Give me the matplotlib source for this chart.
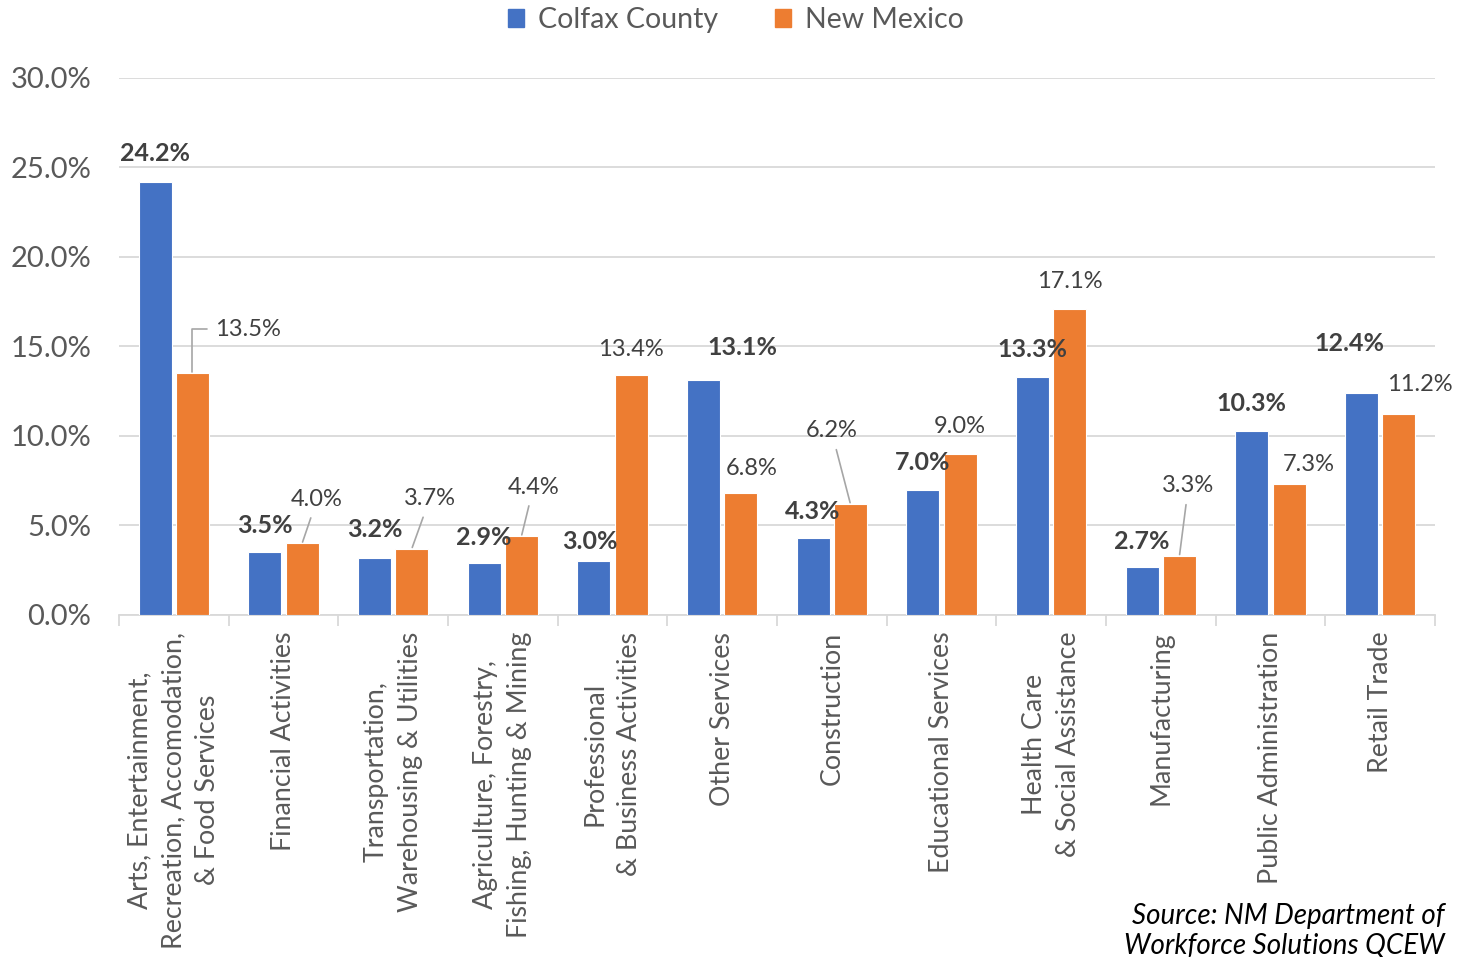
import numpy as np
import matplotlib.pyplot as plt
from matplotlib.patches import Patch

plt.rcParams['font.family'] = ['Lato', 'DejaVu Sans']

# ---------------- data ----------------
categories = [
    "Arts, Entertainment,\nRecreation, Accomodation,\n& Food Services",
    "Financial Activities",
    "Transportation,\nWarehousing & Utilities",
    "Agriculture, Forestry,\nFishing, Hunting & Mining",
    "Professional\n& Business Activities",
    "Other Services",
    "Construction",
    "Educational Services",
    "Health Care\n& Social Assistance",
    "Manufacturing",
    "Public Administration",
    "Retail Trade",
]
colfax = [24.2, 3.5, 3.2, 2.9, 3.0, 13.1, 4.3, 7.0, 13.3, 2.7, 10.3, 12.4]
new_mexico = [13.5, 4.0, 3.7, 4.4, 13.4, 6.8, 6.2, 9.0, 17.1, 3.3, 7.3, 11.2]

# label placement (pixel offsets from the bar top) and leader-line flags
colfax_offsets = [(0, 28), (0, 27), (0, 28), (0, 26), (-4, 20), (39, 33),
                  (0, 27), (0, 27), (0, 27), (0, 25), (0, 27), (-12, 50)]
nm_offsets = [(56, 44), (15, 44), (18, 50), (12, 49), (0, 26), (11, 25),
              (-19, 73), (0, 27), (0, 27), (9, 70), (20, 20), (21, 30)]
nm_leader = [True, True, True, True, False, False,
             True, False, False, True, False, False]

BLUE = "#4472C4"
ORANGE = "#ED7D31"
LABEL = "#404040"
TICK = "#595959"
GRID = "#D9D9D9"

fig = plt.figure(figsize=(14.58, 9.57), dpi=100)
ax = fig.add_axes([0.0816, 0.3574, 0.9026, 0.5611])

x = np.arange(len(categories))
w = 0.30
off = 0.17
ax.bar(x - off, colfax, w, color=BLUE, edgecolor="white", linewidth=0.8,
       zorder=3, label="Colfax County")
ax.bar(x + off, new_mexico, w, color=ORANGE, edgecolor="white", linewidth=0.8,
       zorder=3, label="New Mexico")

ax.set_ylim(0, 30)
ax.set_xlim(-0.5, len(categories) - 0.5)
ax.set_yticks(np.arange(0, 31, 5))
ax.set_yticklabels([f"{v:.1f}%" for v in np.arange(0, 31, 5)],
                   fontsize=21, color=TICK)
ax.yaxis.grid(True, color=GRID, linewidth=1.3, zorder=0)
ax.tick_params(axis="y", length=0, pad=20)

ax.set_xticks(x)
ax.set_xticklabels(categories, rotation=90, ha="center", va="top",
                   multialignment="center", fontsize=19.3, color=TICK,
                   linespacing=1.45)
ax.set_xticks(np.arange(-0.5, len(categories), 1), minor=True)
ax.tick_params(axis="x", which="major", length=0, pad=12)
ax.tick_params(axis="x", which="minor", length=8, color=GRID, width=1.3)

for s in ["top", "right", "left"]:
    ax.spines[s].set_visible(False)
ax.spines["bottom"].set_color(GRID)
ax.spines["bottom"].set_linewidth(1.3)

# data labels
for i, v in enumerate(colfax):
    ax.annotate(f"{v:.1f}%", (x[i] - off, v), xytext=colfax_offsets[i],
                textcoords="offset pixels", ha="center", va="center",
                fontsize=18, fontweight="bold", color=LABEL, zorder=5)

for i, v in enumerate(new_mexico):
    props = None
    if nm_leader[i]:
        props = dict(arrowstyle="-", color="#A6A6A6", lw=1.2,
                     shrinkA=4, shrinkB=1)
        if i == 0:
            props["connectionstyle"] = "angle,angleA=0,angleB=90,rad=0"
            props["relpos"] = (0.0, 0.5)
    ax.annotate(f"{v:.1f}%", (x[i] + off, v), xytext=nm_offsets[i],
                textcoords="offset pixels", ha="center", va="center",
                fontsize=17, color=LABEL, arrowprops=props, zorder=5)

handles = [Patch(color=BLUE), Patch(color=ORANGE)]
fig.legend(handles, ["Colfax County", "New Mexico"], loc="center",
           bbox_to_anchor=(0.505, 0.979), ncol=2, frameon=False,
           fontsize=20.5, handlelength=0.55, handleheight=0.55,
           handletextpad=0.5, columnspacing=2.0, labelcolor=TICK)

fig.text(0.991, 0.027, "Source: NM Department of\nWorkforce Solutions QCEW",
         ha="right", va="center", fontsize=20, style="italic",
         color="black", linespacing=1.2)

fig.savefig("out.png", dpi=100)
